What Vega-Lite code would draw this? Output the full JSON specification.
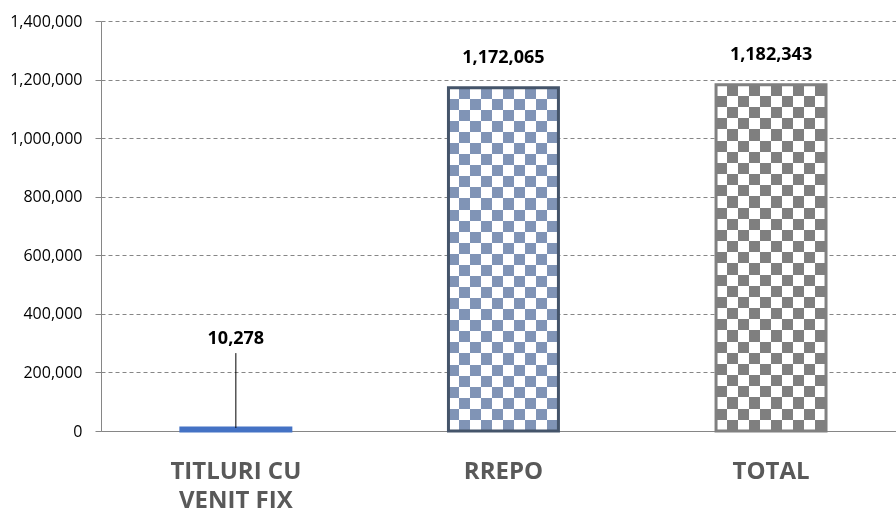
{
  "$schema": "https://vega.github.io/schema/vega-lite/v6.json",
  "width": 795,
  "height": 410,
  "autosize": {"type": "none"},
  "padding": {"left": 101, "top": 21, "right": 0, "bottom": 84},
  "background": "white",
  "config": {"view": {"stroke": null}, "font": "Open Sans"},
  "data": {
    "values": [
      {"cat": "TITLURI CU VENIT FIX", "value": 10278},
      {"cat": "RREPO", "value": 1172065},
      {"cat": "TOTAL", "value": 1182343}
    ]
  },
  "encoding": {
    "x": {
      "field": "cat",
      "type": "nominal",
      "sort": null,
      "scale": {"domain": ["TITLURI CU VENIT FIX", "RREPO", "TOTAL"], "paddingInner": 0.589, "paddingOuter": 0.28, "align": 0.533},
      "axis": {
        "title": null,
        "labelAngle": 0,
        "domainColor": "#868686",
        "domainWidth": 1,
        "ticks": false,
        "grid": false,
        "labelFont": "Open Sans",
        "labelFontSize": 24,
        "labelFontWeight": "bold",
        "labelColor": "#595959",
        "labelBaseline": "top",
        "labelPadding": 28,
        "labelLineHeight": 29,
        "labelLimit": 0,
        "labelExpr": "datum.label == 'TITLURI CU VENIT FIX' ? ['TITLURI CU', 'VENIT FIX'] : datum.label"
      }
    },
    "y": {
      "field": "value",
      "type": "quantitative",
      "scale": {"domain": [0, 1400000]},
      "axis": {
        "title": null,
        "values": [0, 200000, 400000, 600000, 800000, 1000000, 1200000, 1400000],
        "labelExpr": "format(datum.value, ',')",
        "labelFont": "Open Sans",
        "labelFontSize": 16,
        "labelColor": "#000000",
        "labelPadding": 13,
        "tickColor": "#868686",
        "tickSize": 6,
        "domainColor": "#868686",
        "gridColor": "#868686",
        "gridDash": [4, 3],
        "gridWidth": 1
      }
    }
  },
  "layer": [
    {
      "transform": [{"filter": "datum.cat != 'TITLURI CU VENIT FIX'"}],
      "mark": {
        "type": "bar",
        "fill": {
          "gradient": "linear", "x1": 0, "y1": 0, "x2": 1, "y2": 0,
          "stops": [
            {"offset": 0, "color": "black"}, {"offset": 0.1, "color": "black"},
            {"offset": 0.1, "color": "white"}, {"offset": 0.2, "color": "white"},
            {"offset": 0.2, "color": "black"}, {"offset": 0.3, "color": "black"},
            {"offset": 0.3, "color": "white"}, {"offset": 0.4, "color": "white"},
            {"offset": 0.4, "color": "black"}, {"offset": 0.5, "color": "black"},
            {"offset": 0.5, "color": "white"}, {"offset": 0.6, "color": "white"},
            {"offset": 0.6, "color": "black"}, {"offset": 0.7, "color": "black"},
            {"offset": 0.7, "color": "white"}, {"offset": 0.8, "color": "white"},
            {"offset": 0.8, "color": "black"}, {"offset": 0.9, "color": "black"},
            {"offset": 0.9, "color": "white"}, {"offset": 1, "color": "white"}
          ]
        }
      }
    },
    {
      "transform": [{"filter": "datum.cat != 'TITLURI CU VENIT FIX'"}],
      "mark": {
        "type": "bar",
        "blend": "difference",
        "fill": {
          "gradient": "linear", "x1": 0, "y1": 0, "x2": 0, "y2": 1,
          "stops": [
            {"offset": 0, "color": "white"}, {"offset": 0.0323, "color": "white"},
            {"offset": 0.0323, "color": "black"}, {"offset": 0.0645, "color": "black"},
            {"offset": 0.0645, "color": "white"}, {"offset": 0.0968, "color": "white"},
            {"offset": 0.0968, "color": "black"}, {"offset": 0.129, "color": "black"},
            {"offset": 0.129, "color": "white"}, {"offset": 0.1613, "color": "white"},
            {"offset": 0.1613, "color": "black"}, {"offset": 0.1935, "color": "black"},
            {"offset": 0.1935, "color": "white"}, {"offset": 0.2258, "color": "white"},
            {"offset": 0.2258, "color": "black"}, {"offset": 0.2581, "color": "black"},
            {"offset": 0.2581, "color": "white"}, {"offset": 0.2903, "color": "white"},
            {"offset": 0.2903, "color": "black"}, {"offset": 0.3226, "color": "black"},
            {"offset": 0.3226, "color": "white"}, {"offset": 0.3548, "color": "white"},
            {"offset": 0.3548, "color": "black"}, {"offset": 0.3871, "color": "black"},
            {"offset": 0.3871, "color": "white"}, {"offset": 0.4194, "color": "white"},
            {"offset": 0.4194, "color": "black"}, {"offset": 0.4516, "color": "black"},
            {"offset": 0.4516, "color": "white"}, {"offset": 0.4839, "color": "white"},
            {"offset": 0.4839, "color": "black"}, {"offset": 0.5161, "color": "black"},
            {"offset": 0.5161, "color": "white"}, {"offset": 0.5484, "color": "white"},
            {"offset": 0.5484, "color": "black"}, {"offset": 0.5806, "color": "black"},
            {"offset": 0.5806, "color": "white"}, {"offset": 0.6129, "color": "white"},
            {"offset": 0.6129, "color": "black"}, {"offset": 0.6452, "color": "black"},
            {"offset": 0.6452, "color": "white"}, {"offset": 0.6774, "color": "white"},
            {"offset": 0.6774, "color": "black"}, {"offset": 0.7097, "color": "black"},
            {"offset": 0.7097, "color": "white"}, {"offset": 0.7419, "color": "white"},
            {"offset": 0.7419, "color": "black"}, {"offset": 0.7742, "color": "black"},
            {"offset": 0.7742, "color": "white"}, {"offset": 0.8065, "color": "white"},
            {"offset": 0.8065, "color": "black"}, {"offset": 0.8387, "color": "black"},
            {"offset": 0.8387, "color": "white"}, {"offset": 0.871, "color": "white"},
            {"offset": 0.871, "color": "black"}, {"offset": 0.9032, "color": "black"},
            {"offset": 0.9032, "color": "white"}, {"offset": 0.9355, "color": "white"},
            {"offset": 0.9355, "color": "black"}, {"offset": 0.9677, "color": "black"},
            {"offset": 0.9677, "color": "white"}, {"offset": 1, "color": "white"}
          ]
        }
      }
    },
    {
      "transform": [{"filter": "datum.cat != 'TITLURI CU VENIT FIX'"}],
      "mark": {"type": "bar", "blend": "screen"},
      "encoding": {
        "fill": {
          "field": "cat",
          "type": "nominal",
          "scale": {"domain": ["RREPO", "TOTAL"], "range": ["#8094b6", "#7f7f7f"]},
          "legend": null
        }
      }
    },
    {
      "transform": [{"filter": "datum.cat == 'TITLURI CU VENIT FIX'"}],
      "mark": {"type": "bar", "fill": "#c9d5ee"}
    },
    {
      "mark": {"type": "bar", "filled": false, "strokeWidth": 3},
      "encoding": {
        "stroke": {
          "field": "cat",
          "type": "nominal",
          "scale": {"domain": ["TITLURI CU VENIT FIX", "RREPO", "TOTAL"], "range": ["#4472c4", "#44546a", "#808080"]},
          "legend": null
        }
      }
    },
    {
      "transform": [{"filter": "datum.cat != 'TITLURI CU VENIT FIX'"}],
      "mark": {"type": "text", "fontSize": 18, "fontWeight": "bold", "font": "Open Sans", "color": "#000000", "baseline": "middle", "dy": -30},
      "encoding": {
        "text": {"field": "value", "type": "quantitative", "format": ","}
      }
    },
    {
      "transform": [{"filter": "datum.cat == 'TITLURI CU VENIT FIX'"}],
      "mark": {"type": "rule", "color": "#000000", "strokeWidth": 1},
      "encoding": {
        "y2": {"datum": 266000}
      }
    },
    {
      "transform": [{"filter": "datum.cat == 'TITLURI CU VENIT FIX'"}],
      "mark": {"type": "text", "fontSize": 18, "fontWeight": "bold", "font": "Open Sans", "color": "#000000", "baseline": "middle"},
      "encoding": {
        "y": {
          "datum": 314000,
          "type": "quantitative",
          "axis": {
            "title": null,
            "values": [0, 200000, 400000, 600000, 800000, 1000000, 1200000, 1400000],
            "labelExpr": "format(datum.value, ',')",
            "labelFont": "Open Sans",
            "labelFontSize": 16,
            "labelColor": "#000000",
            "labelPadding": 13,
            "tickColor": "#868686",
            "tickSize": 6,
            "domainColor": "#868686",
            "gridColor": "#868686",
            "gridDash": [4, 3],
            "gridWidth": 1
          }
        },
        "text": {"field": "value", "type": "quantitative", "format": ","}
      }
    }
  ]
}
